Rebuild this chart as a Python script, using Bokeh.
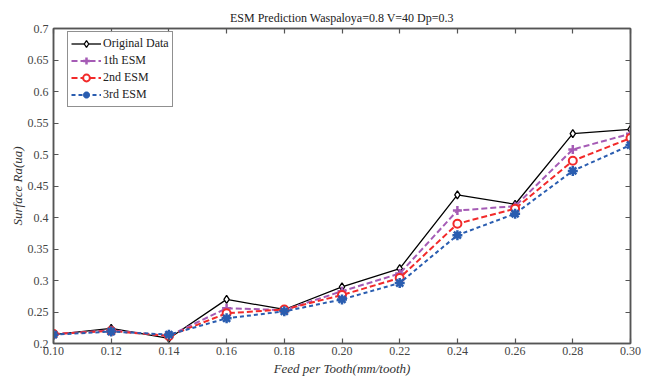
from bokeh.plotting import figure
from bokeh.models import (LinearAxis, FixedTicker, NumeralTickFormatter, Range1d, Legend, LegendItem)
from bokeh.embed import file_html
from bokeh.resources import INLINE

feed = [0.10, 0.12, 0.14, 0.16, 0.18, 0.20, 0.22, 0.24, 0.26, 0.28, 0.30]
original = [0.214, 0.224, 0.208, 0.270, 0.254, 0.290, 0.319, 0.436, 0.421, 0.533, 0.540]
esm1 = [0.215, 0.221, 0.212, 0.256, 0.253, 0.283, 0.311, 0.411, 0.418, 0.508, 0.533]
esm2 = [0.215, 0.220, 0.212, 0.248, 0.254, 0.277, 0.304, 0.390, 0.414, 0.490, 0.526]
esm3 = [0.214, 0.219, 0.214, 0.240, 0.251, 0.270, 0.296, 0.372, 0.406, 0.474, 0.515]
x_ticks = [0.10, 0.12, 0.14, 0.16, 0.18, 0.20, 0.22, 0.24, 0.26, 0.28, 0.30]
y_ticks = [0.2, 0.25, 0.3, 0.35, 0.4, 0.45, 0.5, 0.55, 0.6, 0.65, 0.7]
title_text = "ESM Prediction Waspaloya=0.8 V=40 Dp=0.3"
x_label = "Feed per Tooth(mm/tooth)"
y_label = "Surface Ra(ua)"

FONT = "'Liberation Serif', 'Times New Roman', serif"
AX = "#555555"

p = figure(width=647, height=380, output_backend="svg", toolbar_location=None,
           x_range=Range1d(0.10, 0.30), y_range=Range1d(0.2, 0.7),
           x_axis_type=None, y_axis_type=None,
           min_border_left=53, min_border_right=17, min_border_top=28, min_border_bottom=37)
p.title.text = title_text
p.title.align = "center"
p.title.text_font = FONT
p.title.text_font_size = "12px"
p.title.text_font_style = "normal"
p.title.text_color = "#222222"
p.title.standoff = 8
p.grid.visible = False
p.outline_line_color = AX
p.outline_line_width = 1.5

def make_axis(ticks, fmt, show_labels, standoff, label=None, label_standoff=0):
    ax = LinearAxis(ticker=FixedTicker(ticks=ticks), formatter=NumeralTickFormatter(format=fmt))
    ax.major_tick_in = 5
    ax.major_tick_out = 0
    ax.minor_tick_line_color = None
    ax.axis_line_color = AX
    ax.axis_line_width = 1.5
    ax.major_tick_line_color = AX
    ax.major_tick_line_width = 1.2
    ax.major_label_text_font = FONT
    ax.major_label_text_color = "#444444"
    ax.major_label_standoff = standoff
    ax.major_label_text_font_size = "12px"
    if not show_labels:
        ax.major_label_text_color = None
        ax.major_label_text_font_size = "1px"
        ax.major_label_standoff = 0
    if label:
        ax.axis_label = label
        ax.axis_label_text_font = FONT
        ax.axis_label_text_font_style = "italic"
        ax.axis_label_text_font_size = "13px"
        ax.axis_label_text_color = "#333333"
        ax.axis_label_standoff = label_standoff
    return ax

p.add_layout(make_axis(x_ticks, "0.00", True, 3, x_label, 3), "below")
p.add_layout(make_axis(y_ticks, "0.0[0]", True, 5, y_label, 0), "left")
p.add_layout(make_axis(x_ticks, "0.00", False, 0), "above")
p.add_layout(make_axis(y_ticks, "0.0[0]", False, 0), "right")

c_purple = "#a55bb5"
c_red = "#f22a2a"
c_blue = "#2a5db0"

l0 = p.line(feed, original, line_color="black", line_width=1.3)
m0 = p.scatter(feed, original, marker="diamond", size=8, line_color="black", fill_color="white", line_width=1.3)
l1 = p.line(feed, esm1, line_color=c_purple, line_width=2, line_dash="6 3")
m1 = p.scatter(feed, esm1, marker="cross", size=9, line_color=c_purple, line_width=2.5)
l2 = p.line(feed, esm2, line_color=c_red, line_width=2, line_dash="6 3")
m2 = p.scatter(feed, esm2, marker="circle", size=8, line_color=c_red, fill_color="white", line_width=2)
l3 = p.line(feed, esm3, line_color=c_blue, line_width=2, line_dash="4 3")
m3 = p.scatter(feed, esm3, marker="asterisk", size=10, line_color=c_blue, line_width=2.5)

legend = Legend(items=[
    LegendItem(label="Original Data", renderers=[l0, m0]),
    LegendItem(label="1th ESM", renderers=[l1, m1]),
    LegendItem(label="2nd ESM", renderers=[l2, m2]),
    LegendItem(label="3rd ESM", renderers=[l3, m3]),
], location=(14, 236))
legend.label_text_font = FONT
legend.label_text_font_size = "12px"
legend.label_text_color = "#222222"
legend.border_line_color = "#222222"
legend.border_line_width = 1.2
legend.margin = 0
legend.padding = 3
legend.spacing = 0
legend.glyph_height = 17
legend.label_height = 17
legend.glyph_width = 30
legend.label_standoff = 2
p.add_layout(legend)

open("out.html", "w").write(file_html(p, INLINE))
